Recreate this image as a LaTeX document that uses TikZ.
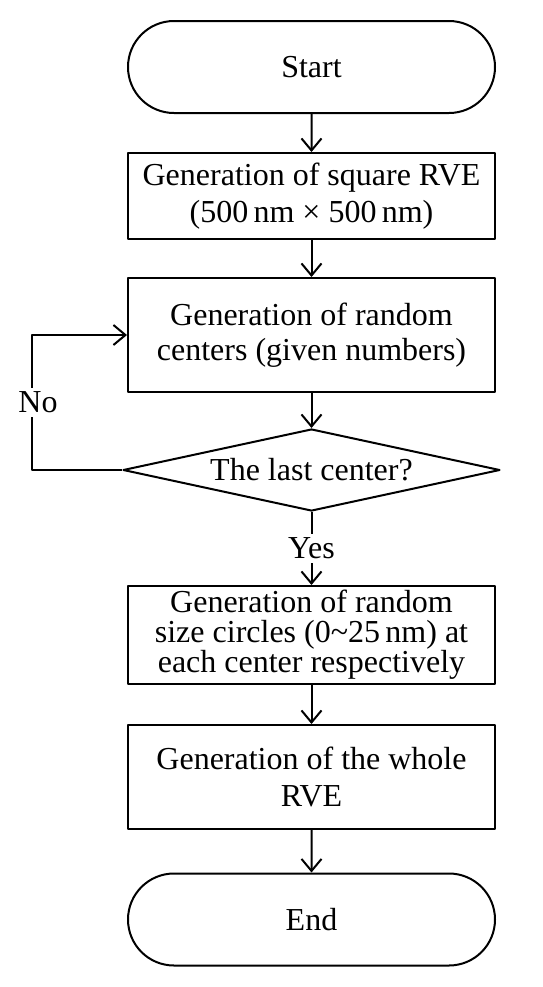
\documentclass[tikz,border=0pt]{standalone}
\usepackage{fontspec}
\setmainfont{Liberation Serif}
\usetikzlibrary{arrows.meta,shapes.geometric,shapes.misc}

\tikzset{
    flowtext/.style={font=\fontsize{16}{18.5}\selectfont, align=center},
    terminal/.style={flowtext, draw, rounded rectangle, minimum width=183.5pt, minimum height=46pt, inner sep=0pt},
    process/.style={flowtext, draw, rectangle, minimum width=183.5pt, inner sep=0pt},
    decision/.style={flowtext, draw, diamond, aspect=4.6, minimum width=188.5pt, minimum height=41pt, inner sep=0pt},
    flow/.style={->},
}

\begin{document}
\begin{tikzpicture}[x=0.5pt, y=-0.5pt, line width=1pt, line join=round,
    >={Straight Barb[length=6pt,width=10pt]}]

    \useasboundingbox (0,0) rectangle (542,987);

    \node[terminal] (start) at (311.5,67) {Start};
    \node[process, minimum height=43pt] (rve) at (311.5,196)
        {Generation of square RVE\\(500\,nm × 500\,nm)};
    \node[process, minimum height=57pt, font=\fontsize{16}{17.5}\selectfont] (centers) at (311.5,335)
        {Generation of random\\centers (given numbers)};
    \node[decision] (check) at (311.5,470) {The last center?};
    \node[process, minimum height=49pt, font=\fontsize{16}{15}\selectfont] (circles) at (311.5,635)
        {Generation of random\\size circles (0\textasciitilde25\,nm) at\\each center respectively};
    \node[process, minimum height=52pt] (whole) at (311.5,777)
        {Generation of the whole\\RVE};
    \node[terminal] (end) at (311.5,919.5) {End};

    % main flow
    \draw[flow] (start) -- (rve);
    \draw[flow] (rve) -- (centers);
    \draw[flow] (centers) -- (check);
    \draw[flow] (check) -- node[flowtext, fill=white, inner sep=2pt] {Yes} (circles);
    \draw[flow] (circles) -- (whole);
    \draw[flow] (whole) -- (end);

    % loop back
    \coordinate (loop) at (32,470);
    \draw[flow] (check.west) -- (loop) -- node[flowtext, fill=white, inner sep=2pt, xshift=3pt] {No} (loop |- centers.west) -- (centers.west);

\end{tikzpicture}
\end{document}
